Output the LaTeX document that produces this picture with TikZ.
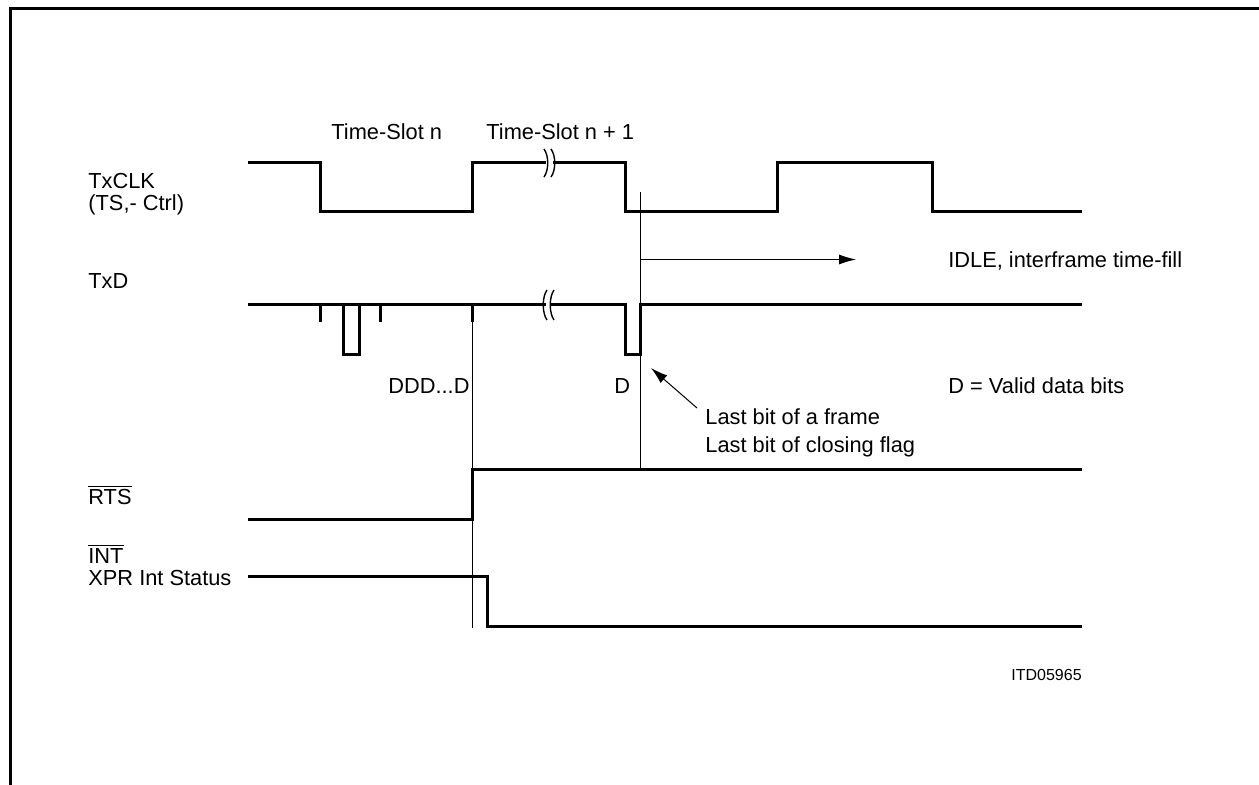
\documentclass[tikz,border=0pt]{standalone}
\usepackage{fontspec}
\setmainfont{Liberation Sans}
\usetikzlibrary{arrows.meta}
\newcommand\ovl[1]{$\overline{\hbox{#1}}$}
\tikzset{
  sig/.style={line width=1.5pt, line join=miter},
  thin/.style={line width=0.5pt},
  lbl/.style={anchor=base west, inner sep=0pt, font=\fontsize{10.9}{12}\selectfont},
  sml/.style={anchor=base west, inner sep=0pt, font=\fontsize{8}{10}\selectfont},
  brk/.style={line width=0.7pt},
  arr/.style={thin, -{Latex[length=8.5pt,width=5pt]}}
}
\begin{document}
\begin{tikzpicture}[x=0.5pt,y=-0.5pt]
\useasboundingbox (0,0) rectangle (1259,785);
% frame
\draw[line width=1.5pt] (10,785) -- (10,8.5) -- (1259,8.5);

% TxCLK
\draw[sig] (248,163) -- (320,163) -- (320,212) -- (472,212) -- (472,163) -- (546,163);
\draw[sig] (553,163) -- (625,163) -- (625,212) -- (777,212) -- (777,163) -- (932,163) -- (932,212) -- (1082,212);
\draw[brk] (544,149) .. controls (549,156) and (549,170) .. (544,177);
\draw[brk] (551,149) .. controls (556,156) and (556,170) .. (551,177);

% TxD
\draw[sig] (248,305) -- (546,305);
\draw[sig] (320,305) -- (320,322);
\draw[sig] (380.5,305) -- (380.5,322);
\draw[sig] (472,305) -- (472,322);
\draw[sig] (343,305) -- (343,355) -- (359,355) -- (359,305);
\draw[sig] (551,305) -- (625,305) -- (625,355) -- (640,355) -- (640,305) -- (1082,305);
\draw[brk] (547,290) .. controls (542,297) and (542,313) .. (547,320);
\draw[brk] (554,290) .. controls (549,297) and (549,313) .. (554,320);

% RTS
\draw[sig] (248,520) -- (472,520) -- (472,470) -- (1082,470);
% INT
\draw[sig] (248,577) -- (487,577) -- (487,627) -- (1082,627);

% thin markers
\coordinate (m1t) at (472,305);
\coordinate (m1b) at (472,628);
\draw[thin] (m1t) -- (m1b);
\coordinate (m2t) at (640,192);
\coordinate (m2b) at (640,470);
\draw[thin] (m2t) -- (m2b);
\coordinate (idleS) at (640,259.5);
\coordinate (idleE) at (856,259.5);
\draw[arr] (idleS) -- (idleE);
\coordinate (lbS) at (697,408);
\coordinate (lbE) at (651,368);
\draw[arr] (lbS) -- (lbE);

% labels
\node[lbl] (txclk) at (88,189) {TxCLK};
\node[lbl] (tsctrl) at (88,211) {(TS,- Ctrl)};
\node[lbl] (txd) at (88,288.5) {TxD};
\node[lbl] (rts) at (88,504.5) {\ovl{RTS}};
\node[lbl] (int) at (88,563.5) {\ovl{INT}};
\node[lbl] (xpr) at (88,585.5) {XPR Int Status};
\node[lbl] (tsn) at (331,139.5) {Time-Slot n};
\node[lbl] (tsn1) at (486,139.5) {Time-Slot n + 1};
\node[lbl] (ddd) at (388,393.5) {DDD...D};
\node[lbl] (d) at (614,393.5) {D};
\node[lbl] (valid) at (948,393.5) {D = Valid data bits};
\node[lbl] (last1) at (705,424.5) {Last bit of a frame};
\node[lbl] (last2) at (705,452.5) {Last bit of closing flag};
\node[lbl] (idle) at (948,267.5) {IDLE, interframe time-fill};
\node[sml] (itd) at (1011,680.5) {ITD05965};
\end{tikzpicture}
\end{document}
